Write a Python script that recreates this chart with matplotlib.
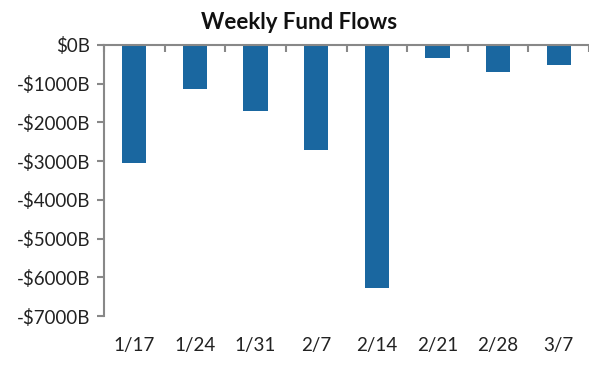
import numpy as np
import matplotlib
matplotlib.use("Agg")
import matplotlib.pyplot as plt
from matplotlib.ticker import FuncFormatter

# Weekly fund flows, in billions
weeks = ["1/17", "1/24", "1/31", "2/7", "2/14", "2/21", "2/28", "3/7"]
flows = [-3050, -1140, -1710, -2710, -6280, -330, -690, -510]

plt.rcParams["font.family"] = ["Lato", "DejaVu Sans"]

fig = plt.figure(figsize=(5.89, 3.75), dpi=100)
ax = fig.add_axes([0.1766, 0.1573, 0.8234, 0.7227])

x = np.arange(len(weeks))
ax.bar(x, flows, width=0.4, color="#1a67a0")

ax.set_xlim(-0.5, len(weeks) - 0.5)
ax.set_ylim(-7000, 0)
ax.set_yticks(np.arange(-7000, 1, 1000))
ax.yaxis.set_major_formatter(FuncFormatter(
    lambda v, p: "$0B" if v == 0 else "-${:d}B".format(int(abs(v)))))
ax.set_xticks(x)
ax.set_xticklabels(weeks)
ax.set_xticks(np.arange(-0.5, len(weeks)), minor=True)

for s in ["right", "bottom"]:
    ax.spines[s].set_visible(False)
for s in ["left", "top"]:
    ax.spines[s].set_color("#888888")
    ax.spines[s].set_linewidth(1.5)

ax.tick_params(axis="x", which="major", length=0, pad=15, labelsize=13.5,
               labelcolor="#222222")
ax.tick_params(axis="x", which="minor", bottom=False, top=True,
               direction="in", length=5, width=1.5, color="#888888")
ax.tick_params(axis="y", length=5, width=1.5, color="#888888", pad=5,
               labelsize=13.5, labelcolor="#222222")

fig.text(0.508, 0.94, "Weekly Fund Flows", ha="center", va="center",
         fontsize=16, fontweight="bold", color="#111111")

fig.savefig("out.png", dpi=100)
